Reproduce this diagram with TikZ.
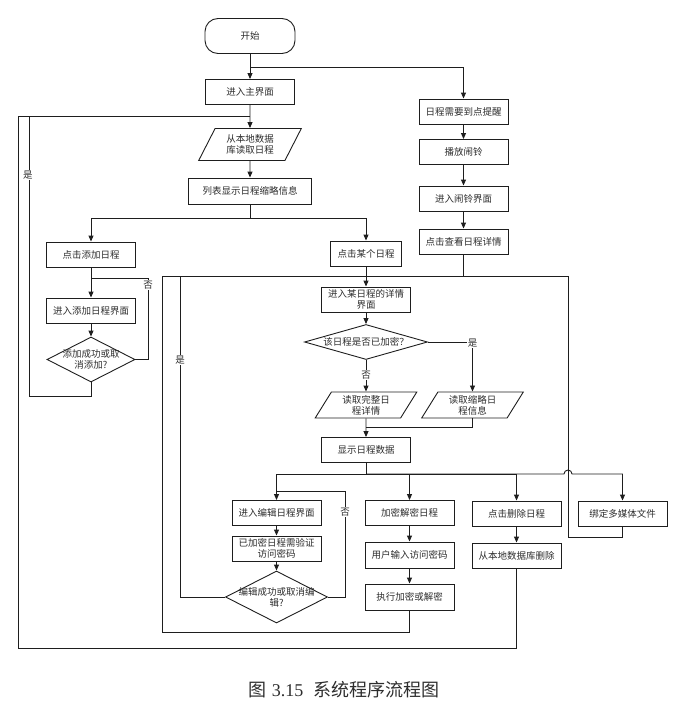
\documentclass[tikz,border=0pt]{standalone}
\usepackage{fontspec}
\setmainfont{Noto Sans CJK SC}
\newfontfamily\capnum{Liberation Serif}
\usepackage{tikz}
\usetikzlibrary{arrows.meta, shapes.geometric}
\definecolor{flowline}{RGB}{30,30,30}
\definecolor{flowtext}{RGB}{45,45,45}
\tikzset{
  base/.style={draw=flowline, line width=0.9pt, text=flowtext, inner sep=1pt, align=center, font=\fontsize{9.5}{11}\selectfont},
  term/.style={base, rounded corners=13pt, minimum width=90pt, minimum height=35pt},
  proc/.style={base, minimum width=89pt, minimum height=25pt},
  io/.style={base, trapezium, trapezium left angle=62, trapezium right angle=118, trapezium stretches=true, minimum width=102pt, minimum height=26pt},
  decide/.style={base, diamond, inner sep=0pt},
  dtext/.style={text=flowtext, inner sep=0pt, align=center, font=\fontsize{9.5}{11}\selectfont},
  lbl/.style={fill=white, text=flowtext, inner sep=1pt, font=\fontsize{9.5}{11}\selectfont},
  arr/.style={-{Triangle[length=6pt,width=5pt]}}
}

\begin{document}
\begin{tikzpicture}[x=1pt, y=-1pt, color=flowline, line width=0.9pt]
  \useasboundingbox (0,0) rectangle (688,725);

  \node[term] (start) at (250,36) {开始};
  \node[proc] (mainui) at (250,92) {进入主界面};
  \node[io, minimum width=103pt, minimum height=32pt] (readdb) at (250,144.5) {从本地数据\\库读取日程};
  \node[proc, minimum width=123pt, minimum height=26pt] (listinfo) at (250,191) {列表显示日程缩略信息};
  \node[proc] (addsch) at (91,254.5) {点击添加日程};
  \node[proc, minimum width=71pt] (clicksch) at (366,253.5) {点击某个日程};
  \node[proc] (addui) at (91,310.5) {进入添加日程界面};
  \node[decide, minimum width=88pt, minimum height=45pt,
        label={[dtext]center:添加成功或取\\消添加?}] (addok) at (91,359.5) {};

  \node[proc] (remind) at (463.5,111.5) {日程需要到点提醒};
  \node[proc] (bell) at (463.5,152) {播放闹铃};
  \node[proc] (bellui) at (463.5,198.5) {进入闹铃界面};
  \node[proc] (viewdetail) at (463.5,241.5) {点击查看日程详情};

  \node[proc] (detailui) at (366,299.5) {进入某日程的详情\\界面};
  \node[decide, minimum width=123pt, minimum height=35pt,
        label={[dtext]center:该日程是否已加密？}] (isenc) at (366,342) {};
  \node[io] (readfull) at (366,405) {读取完整日\\程详情};
  \node[io] (readbrief) at (472.5,405) {读取缩略日\\程信息};
  \node[proc] (showdata) at (366,450) {显示日程数据};

  \node[proc] (editui) at (276.5,513) {进入编辑日程界面};
  \node[proc] (needpwd) at (276.5,548.5) {已加密日程需验证\\访问密码};
  \node[decide, minimum width=102pt, minimum height=52pt,
        label={[dtext]center:编辑成功或取消编\\辑?}] (editok) at (276.5,597) {};
  \node[proc] (encdec) at (409.5,513) {加密解密日程};
  \node[proc, minimum height=26pt] (inputpwd) at (409.5,555) {用户输入访问密码};
  \node[proc, minimum height=26pt] (doenc) at (409.5,597) {执行加密或解密};
  \node[proc] (clickdel) at (516.5,513.5) {点击删除日程};
  \node[proc] (dbdel) at (516.5,555.5) {从本地数据库删除};
  \node[proc] (bind) at (622.5,513.5) {绑定多媒体文件};

  \coordinate (mainsplit) at (250,67);
  \coordinate (mainjoin) at (250,116);
  \coordinate (listsplit) at (250,218);
  \coordinate (addjoin) at (91,278);
  \coordinate (detailjoin) at (366,276);
  \coordinate (readjoin) at (366,427);
  \coordinate (showsplit) at (366,474);
  \coordinate (editjoin) at (276.5,491);

  \draw[arr] (start) -- (mainui);
  \draw[arr] (mainsplit) -| (remind);
  \draw[arr] (mainui) -- (readdb);
  \draw[arr] (readdb) -- (listinfo);
  \draw (listinfo) -- (listsplit);
  \draw[arr] (listsplit) -| (addsch);
  \draw[arr] (listsplit) -| (clicksch);
  \draw[arr] (addsch) -- (addui);
  \draw[arr] (addui) -- (addok);
  \draw (addok.east) -| (148,278) -- (addjoin);
  \draw (addok.south) -- ++(0,14) -| (29,116);
  \draw (dbdel.south) -- ++(0,80) -| (18,116) -- (mainjoin);

  \draw[arr] (remind) -- (bell);
  \draw[arr] (bell) -- (bellui);
  \draw[arr] (bellui) -- (viewdetail);
  \draw (viewdetail) |- (detailjoin);

  \draw[arr] (clicksch) -- (detailui);
  \draw[arr] (detailui) -- (isenc);
  \draw[arr] (isenc.east) -| (readbrief);
  \draw[arr] (isenc) -- (readfull);
  \draw[arr] (readfull) -- (showdata);
  \draw (readbrief) |- (readjoin);

  \draw (showdata) -- (showsplit);
  \draw[arr] (showsplit) -| (editui);
  \draw[arr] (showsplit) -| (encdec);
  \draw[arr] (showsplit) -| (clickdel);
  \draw[arr] (showsplit) -- (564,474) arc[start angle=180, end angle=360, radius=4] -| (bind);

  \draw[arr] (editui) -- (needpwd);
  \draw[arr] (needpwd) -- (editok);
  \draw (editok.east) -| (345,491) -- (editjoin);
  \draw (editok.west) -| (180,276);
  \draw[arr] (encdec) -- (inputpwd);
  \draw[arr] (inputpwd) -- (doenc);
  \draw (doenc.south) -- ++(0,22) -| (162,276) -- (detailjoin);
  \draw[arr] (clickdel) -- (dbdel);
  \draw (bind.south) -- ++(0,11) -| (568,276) -- (detailjoin);

  \node[lbl] (yesadd) at (28,175) {是};
  \node[lbl] (noadd) at (148,285) {否};
  \node[lbl] (yesedit) at (180,360) {是};
  \node[lbl] (yesenc) at (472.5,343) {是};
  \node[lbl] (noenc) at (366,375) {否};
  \node[lbl] (noedit) at (345,512) {否};

  \node[text=flowtext, font=\fontsize{18}{21}\selectfont] (caption) at (344,690)
    {图\hspace{5pt}{\capnum 3.15}\hspace{10pt}系统程序流程图};
\end{tikzpicture}
\end{document}
